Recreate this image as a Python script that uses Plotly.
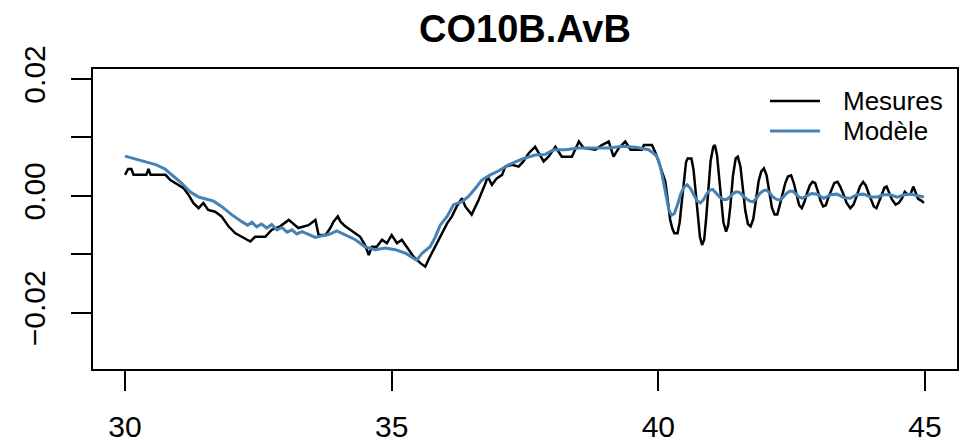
import plotly.graph_objects as go

# ---- data ----
mes_t = [30.00, 30.06, 30.12, 30.16, 30.40, 30.44, 30.48, 30.76, 30.85, 31.00,
         31.10, 31.19, 31.28, 31.38, 31.47, 31.56, 31.69, 31.81, 31.94, 32.07,
         32.19, 32.35, 32.44, 32.63, 32.75, 32.91, 33.07, 33.25, 33.44, 33.57,
         33.63, 33.76, 33.85, 33.91, 33.99, 34.04, 34.13, 34.22, 34.32, 34.41,
         34.50, 34.57, 34.63, 34.72, 34.82, 34.91, 35.00, 35.10, 35.19, 35.29,
         35.41, 35.54, 35.63, 35.69, 35.75, 35.85, 35.94, 36.04, 36.13, 36.22,
         36.32, 36.38, 36.50, 36.63, 36.76, 36.80, 36.88, 36.97, 37.07, 37.13,
         37.26, 37.38, 37.47, 37.57, 37.69, 37.76, 37.85, 37.94, 38.07, 38.19,
         38.38, 38.51, 38.60, 38.82, 38.94, 39.07, 39.16, 39.26, 39.38, 39.48,
         39.69, 39.73, 39.88, 39.95,
         40.00, 40.06, 40.13, 40.18, 40.22, 40.26, 40.30, 40.36, 40.40, 40.44,
         40.48, 40.52, 40.55, 40.62, 40.66, 40.70, 40.74, 40.78, 40.82, 40.86,
         40.90, 40.94, 40.98, 41.03, 41.06, 41.10, 41.14, 41.18, 41.22, 41.27,
         41.31, 41.35, 41.40, 41.45, 41.49, 41.54, 41.58, 41.63, 41.68, 41.73,
         41.78, 41.83, 41.88, 41.93, 41.98, 42.03, 42.08, 42.13, 42.18, 42.23,
         42.28, 42.33, 42.38, 42.43, 42.49, 42.54, 42.59, 42.64, 42.69, 42.74,
         42.79, 42.84, 42.89, 42.94, 42.99, 43.04, 43.09, 43.14, 43.19, 43.24,
         43.30, 43.36, 43.41, 43.47, 43.53, 43.60, 43.66, 43.72, 43.78, 43.84,
         43.89, 43.94, 43.99, 44.04, 44.09, 44.14, 44.19, 44.24, 44.28, 44.33,
         44.38, 44.45, 44.51, 44.57, 44.62, 44.68, 44.73, 44.78, 44.82, 44.87,
         44.93, 44.98]
mes_v = [0.0036, 0.0046, 0.0046, 0.0036, 0.0036, 0.0046, 0.0036, 0.0036, 0.0027, 0.0019,
         0.0013, 0.0002, -0.0012, -0.0021, -0.0012, -0.0024, -0.0027, -0.0035, -0.0052, -0.0064,
         -0.0070, -0.0078, -0.0070, -0.0070, -0.0058, -0.0052, -0.0041, -0.0055, -0.0050, -0.0041,
         -0.0067, -0.0067, -0.0055, -0.0044, -0.0035, -0.0044, -0.0052, -0.0058, -0.0064, -0.0070,
         -0.0084, -0.0101, -0.0087, -0.0087, -0.0075, -0.0081, -0.0067, -0.0081, -0.0075, -0.0089,
         -0.0104, -0.0115, -0.0121, -0.0109, -0.0098, -0.0081, -0.0064, -0.0047, -0.0035, -0.0018,
         -0.0004, -0.0018, -0.0032, -0.0007, 0.0022, 0.0033, 0.0019, 0.0030, 0.0036, 0.0050,
         0.0053, 0.0050, 0.0059, 0.0073, 0.0084, 0.0073, 0.0059, 0.0067, 0.0084, 0.0067,
         0.0067, 0.0093, 0.0082, 0.0079, 0.0087, 0.0093, 0.0067, 0.0082, 0.0093, 0.0079,
         0.0079, 0.0087, 0.0087, 0.0073,
         0.0059, 0.0044, 0.0025, -0.0010, -0.0040, -0.0055, -0.0064, -0.0064, -0.0045, -0.0010,
         0.0030, 0.0058, 0.0064, 0.0064, 0.0045, 0.0010, -0.0035, -0.0070, -0.0084, -0.0075,
         -0.0035, 0.0016, 0.0060, 0.0084, 0.0087, 0.0070, 0.0035, -0.0010, -0.0045, -0.0061,
         -0.0050, -0.0018, 0.0035, 0.0064, 0.0067, 0.0050, 0.0015, -0.0025, -0.0048, -0.0052,
         -0.0040, -0.0010, 0.0025, 0.0042, 0.0047, 0.0035, 0.0010, -0.0020, -0.0032, -0.0032,
         -0.0015, 0.0005, 0.0022, 0.0033, 0.0035, 0.0022, 0.0002, -0.0016, -0.0021, -0.0010,
         0.0005, 0.0018, 0.0024, 0.0022, 0.0008, -0.0008, -0.0018, -0.0016, -0.0002, 0.0010,
         0.0022, 0.0024, 0.0016, 0.0003, -0.0012, -0.0021, -0.0015, 0.0000, 0.0016, 0.0024,
         0.0018, 0.0005, -0.0008, -0.0018, -0.0021, -0.0010, 0.0004, 0.0014, 0.0016, 0.0005,
         -0.0006, -0.0015, -0.0012, -0.0004, 0.0007, 0.0002, 0.0003, 0.0016, 0.0008, -0.0005,
         -0.0008, -0.0012]

mod_t = [30.00, 30.19, 30.41, 30.59, 30.75, 30.91, 31.06, 31.22, 31.38, 31.50,
         31.66, 31.81, 32.00, 32.19, 32.30, 32.38, 32.47, 32.56, 32.66, 32.75,
         32.85, 32.94, 33.04, 33.13, 33.22, 33.32, 33.44, 33.57, 33.70, 33.82,
         33.97, 34.13, 34.32, 34.50, 34.69, 34.88, 35.07, 35.26, 35.41, 35.47,
         35.57, 35.72, 35.82, 35.91, 36.04, 36.16, 36.32, 36.44, 36.57, 36.69,
         36.85, 37.01, 37.19, 37.44, 37.69, 37.88, 38.04, 38.26, 38.51, 38.82,
         39.07, 39.32, 39.57, 39.82, 39.95,
         40.00, 40.05, 40.10, 40.15, 40.20, 40.25, 40.30, 40.36, 40.42, 40.48,
         40.54, 40.60, 40.67, 40.73, 40.79, 40.85, 40.91, 40.97, 41.02, 41.08,
         41.15, 41.22, 41.28, 41.34, 41.40, 41.46, 41.52, 41.58, 41.65, 41.72,
         41.78, 41.84, 41.90, 41.97, 42.03, 42.09, 42.15, 42.22, 42.28, 42.34,
         42.40, 42.46, 42.52, 42.58, 42.64, 42.70, 42.78, 42.87, 42.98, 43.10,
         43.23, 43.35, 43.48, 43.60, 43.72, 43.85, 43.98, 44.10, 44.22, 44.35,
         44.48, 44.61, 44.73, 44.86, 44.98]
mod_v = [0.0068, 0.0063, 0.0057, 0.0053, 0.0046, 0.0034, 0.0022, 0.0007, -0.0002, -0.0005,
         -0.0009, -0.0018, -0.0032, -0.0044, -0.0050, -0.0045, -0.0053, -0.0048, -0.0055, -0.0049,
         -0.0058, -0.0054, -0.0062, -0.0058, -0.0065, -0.0061, -0.0066, -0.0071, -0.0068, -0.0066,
         -0.0060, -0.0067, -0.0075, -0.0087, -0.0092, -0.0089, -0.0092, -0.0098, -0.0107, -0.0110,
         -0.0098, -0.0087, -0.0070, -0.0050, -0.0035, -0.0015, -0.0010, -0.0001, 0.0013, 0.0027,
         0.0036, 0.0043, 0.0053, 0.0063, 0.0070, 0.0071, 0.0079, 0.0079, 0.0082, 0.0082,
         0.0082, 0.0085, 0.0083, 0.0079, 0.0070,
         0.0062, 0.0045, 0.0022, -0.0005, -0.0025, -0.0033, -0.0030, -0.0015, 0.0003, 0.0015,
         0.0019, 0.0013, 0.0000, -0.0009, -0.0012, -0.0006, 0.0004, 0.0010, 0.0011, 0.0005,
         -0.0002, -0.0006, -0.0006, -0.0002, 0.0004, 0.0007, 0.0006, 0.0001, -0.0005, -0.0009,
         -0.0010, -0.0004, 0.0004, 0.0009, 0.0010, 0.0005, -0.0002, -0.0006, -0.0007, -0.0002,
         0.0004, 0.0008, 0.0008, 0.0003, -0.0002, -0.0004, 0.0000, 0.0004, 0.0003, -0.0004,
         0.0002, 0.0003, -0.0003, -0.0004, 0.0002, 0.0003, -0.0002, -0.0002, 0.0002, 0.0002,
         -0.0002, 0.0002, 0.0003, 0.0000, -0.0002]

x_ticks = [30, 35, 40, 45]
y_ticks = [-0.02, -0.01, 0.0, 0.01, 0.02]
y_ticktext = ["\u22120.02", "", "0.00", "", "0.02"]

title_text = "CO10B.AvB"
names = ["Mesures", "Modèle"]
colors = ["black", "#4682B4"]

FONT = "Liberation Sans, Arial, sans-serif"

fig = go.Figure()
fig.add_trace(go.Scatter(x=mes_t, y=mes_v, mode="lines", name=names[0],
                         line=dict(color=colors[0], width=2.5), showlegend=False))
fig.add_trace(go.Scatter(x=mod_t, y=mod_v, mode="lines", name=names[1],
                         line=dict(color=colors[1], width=3), showlegend=False))

# legend drawn like R's legend(bty="n"): line samples + labels
legend_rows_y = [0.8933, 0.7933]
for name, col, ly in zip(names, colors, legend_rows_y):
    fig.add_shape(type="line", xref="paper", yref="paper",
                  x0=0.7836, x1=0.8414, y0=ly, y1=ly,
                  line=dict(color=col, width=2.5 if col == "black" else 3))
    fig.add_annotation(text=name, xref="paper", yref="paper", x=0.866, y=ly,
                       xanchor="left", yanchor="middle", showarrow=False,
                       font=dict(size=26, family=FONT, color="black"))

fig.update_layout(
    width=966, height=444,
    margin=dict(l=93, r=9, t=69, b=75, pad=0, autoexpand=False),
    paper_bgcolor="white", plot_bgcolor="white",
    font=dict(family=FONT, color="black"),
    title=dict(text="<b>" + title_text + "</b>", x=0.5, xref="paper", xanchor="center",
               y=0.935, yref="container", yanchor="middle",
               font=dict(size=38, family=FONT, color="black")),
    showlegend=False,
)
fig.update_xaxes(range=[29.4, 45.6], tickvals=x_ticks, ticktext=[str(v) for v in x_ticks],
                 automargin=False,
                 showgrid=False, zeroline=False, showline=True, mirror=True,
                 linecolor="black", linewidth=2, ticks="outside", ticklen=20,
                 tickwidth=2, tickcolor="black", tickfont=dict(size=30, family=FONT),
                 ticklabelstandoff=10)
fig.update_yaxes(range=[-0.0296, 0.0217], tickvals=y_ticks, ticktext=y_ticktext,
                 tickangle=-90, automargin=False,
                 showgrid=False, zeroline=False, showline=True, mirror=True,
                 linecolor="black", linewidth=2, ticks="outside", ticklen=20,
                 tickwidth=2, tickcolor="black", tickfont=dict(size=30, family=FONT),
                 ticklabelstandoff=14)

fig.write_html("out.html")
